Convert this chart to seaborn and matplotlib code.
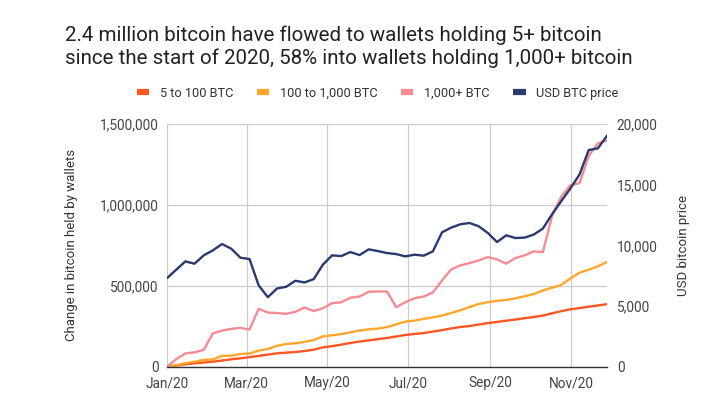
import matplotlib
matplotlib.use("Agg")

import matplotlib.dates as mdates
import matplotlib.pyplot as plt
import numpy as np
import pandas as pd
import seaborn as sns
from matplotlib.lines import Line2D
from matplotlib.ticker import FuncFormatter, MultipleLocator

# ── Data (weekly samples, Jan 2020 → end of Nov 2020) ──────────────────────
dates = pd.date_range("2020-01-01", "2020-11-28", periods=49)

btc_5_100 = [
    0, 7000, 14800, 21000, 26000, 31000, 38300, 45700, 51900, 59300,
    66700, 74800, 82800, 87100, 90800, 97000, 105000, 119900, 126700, 136600,
    146500, 155800, 162600, 170000, 177500, 186800, 196000, 202300, 207900, 217200,
    225800, 236400, 245700, 251300, 260600, 269200, 276700, 284100, 291600, 299600,
    307100, 315700, 330000, 343000, 354800, 362200, 370900, 378300, 386400,
]
btc_100_1000 = [
    0, 9000, 21700, 31000, 42100, 44600, 66900, 68200, 78700, 81800,
    99200, 109700, 128900, 140700, 144400, 153700, 164200, 187200, 194000, 201400,
    212600, 223100, 231200, 235500, 244800, 261600, 278900, 285100, 295600, 304900,
    316100, 331600, 349000, 368800, 387400, 398500, 407200, 412200, 422700, 435100,
    449400, 471000, 487800, 505100, 545400, 580800, 599400, 619800, 647700,
]
btc_1000_plus = [
    0, 46500, 82400, 88600, 103500, 206400, 223100, 233700, 239900, 229300,
    357600, 334700, 331600, 326600, 339000, 365700, 344000, 361300, 392300, 398500,
    425800, 433900, 463000, 464900, 464900, 367500, 398500, 423300, 433900, 458700,
    533000, 601200, 626000, 640300, 657000, 677400, 663200, 636500, 671200, 688000,
    712800, 708400, 929700, 1050600, 1121800, 1134200, 1301600, 1380300, 1397600,
]
usd_price = [
    7297, 7990, 8677, 8487, 9173, 9586, 10107, 9727, 8983, 8867,
    6694, 5727, 6446, 6586, 7082, 6942, 7215, 8404, 9173, 9115,
    9446, 9198, 9669, 9528, 9363, 9280, 9090, 9231, 9148, 9504,
    11074, 11462, 11735, 11842, 11570, 11016, 10272, 10826, 10603, 10636,
    10884, 11380, 12561, 13636, 14685, 15842, 17850, 17991, 19032,
]

series_names = ["5 to 100 BTC", "100 to 1,000 BTC", "1,000+ BTC", "USD BTC price"]
colors = ["#ff5623", "#ffa62b", "#f78a92", "#283b70"]

title = ("2.4 million bitcoin have flowed to wallets holding 5+ bitcoin\n"
         "since the start of 2020, 58% into wallets holding 1,000+ bitcoin")

# ── Style ────────────────────────────────────────────────────────────────────
sns.set_theme(style="whitegrid")
plt.rcParams["font.family"] = ["Roboto", "DejaVu Sans"]

df = pd.DataFrame({
    "date": dates,
    series_names[0]: btc_5_100,
    series_names[1]: btc_100_1000,
    series_names[2]: btc_1000_plus,
    series_names[3]: usd_price,
})

fig = plt.figure(figsize=(7.15, 4.07), dpi=100)
ax = fig.add_axes([0.2336, 0.099, 0.6154, 0.5964])
ax2 = ax.twinx()

lw = 1.7
for name, color in zip(series_names[:3], colors[:3]):
    sns.lineplot(data=df, x="date", y=name, color=color, lw=lw, ax=ax,
                 zorder=3)
sns.lineplot(data=df, x="date", y=series_names[3], color=colors[3], lw=lw,
             ax=ax2, zorder=4)

# left axis
ax.set_xlim(dates[0], dates[-1])
ax.set_ylim(0, 1500000)
ax.yaxis.set_major_locator(MultipleLocator(500000))
ax.yaxis.set_major_formatter(FuncFormatter(lambda v, p: f"{int(v):,}"))
ax.set_ylabel("Change in bitcoin held by wallets", fontsize=9.5,
              color="#333333", labelpad=16)
ax.set_xlabel("")
ax.xaxis.set_major_locator(mdates.MonthLocator(bymonth=[1, 3, 5, 7, 9, 11]))
ax.xaxis.set_major_formatter(mdates.DateFormatter("%b/%y"))
ax.tick_params(axis="y", length=0, labelsize=9.8, colors="#444444", pad=6)
ax.tick_params(axis="x", length=0, labelsize=9.8, colors="#444444", pad=7)
ax.grid(True, color="#cccccc", lw=0.9)
for side in ["left", "right", "top"]:
    ax.spines[side].set_visible(False)
ax.spines["bottom"].set_color("#333333")
ax.spines["bottom"].set_linewidth(1.0)
ax.spines["bottom"].set_zorder(5)

# right axis
ax2.set_ylim(0, 20000)
ax2.yaxis.set_major_locator(MultipleLocator(5000))
ax2.yaxis.set_major_formatter(FuncFormatter(lambda v, p: f"{int(v):,}"))
ax2.set_ylabel("USD bitcoin price", fontsize=9.5, color="#333333",
               labelpad=14)
ax2.tick_params(axis="y", length=0, labelsize=9.8, colors="#444444", pad=7)
ax2.grid(False)
for side in ["left", "right", "top", "bottom"]:
    ax2.spines[side].set_visible(False)

# legend across the top
handles = [Line2D([0], [0], color=c, lw=4.5, solid_capstyle="butt")
           for c in colors]
fig.legend(handles, series_names, loc="center", bbox_to_anchor=(0.5285, 0.771),
           ncol=4, frameon=False, fontsize=9.2, handlelength=0.95,
           handletextpad=0.85, columnspacing=1.85, labelcolor="#333333")

fig.text(0.091, 0.885, title, fontsize=14.75, color="#222222", ha="left",
         va="center", linespacing=1.25)

fig.savefig("out.png", dpi=100)
